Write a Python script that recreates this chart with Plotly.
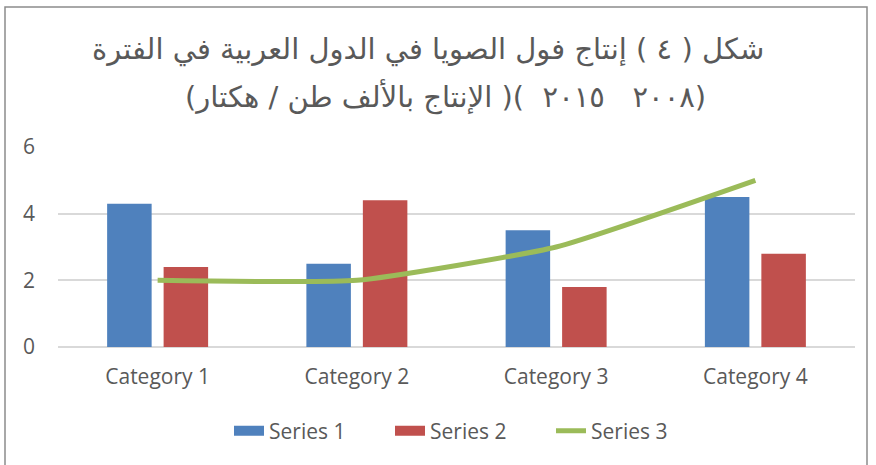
import plotly.graph_objects as go

categories = ["Category 1", "Category 2", "Category 3", "Category 4"]
series1 = [4.3, 2.5, 3.5, 4.5]
series2 = [2.4, 4.4, 1.8, 2.8]
series3 = [2, 2, 3, 5]
RLE, PDF = "\u202B", "\u202C"
title_line1 = RLE + "شكل ( ٤ ) إنتاج فول الصويا في الدول العربية في الفترة" + PDF
title_line2 = RLE + "(٢٠٠٨   ٢٠١٥  )( الإنتاج بالألف طن / هكتار)" + PDF

W, H = 876, 465
L, R, T, B = 58, 21, 147, 118

BLUE, RED, GREEN = "#4F81BD", "#C0504D", "#9BBB59"
TXT = "#595959"
FONT = "Open Sans, Liberation Sans, sans-serif"

fig = go.Figure()
fig.add_trace(go.Bar(x=categories, y=series1, name="Series 1", showlegend=False,
                     marker=dict(color=BLUE, line=dict(width=0))))
fig.add_trace(go.Bar(x=categories, y=series2, name="Series 2", showlegend=False,
                     marker=dict(color=RED, line=dict(width=0))))
fig.add_trace(go.Scatter(x=categories, y=series3, name="Series 3", mode="lines", showlegend=False,
                         line=dict(color=GREEN, width=5, shape="spline", smoothing=0.45)))
# legend entries
fig.add_trace(go.Scatter(x=[None], y=[None], name="Series 1", mode="lines",
                         line=dict(color=BLUE, width=14)))
fig.add_trace(go.Scatter(x=[None], y=[None], name="Series 2", mode="lines",
                         line=dict(color=RED, width=14)))
fig.add_trace(go.Scatter(x=[None], y=[None], name="Series 3", mode="lines",
                         line=dict(color=GREEN, width=5)))

pw = W - L - R
ph = H - T - B
def px(x):
    return (x - L) / pw
def py(y):
    return (H - B - y) / ph

fig.update_layout(
    width=W, height=H,
    margin=dict(l=L, r=R, t=T, b=B, autoexpand=False),
    paper_bgcolor="white", plot_bgcolor="white",
    barmode="group", bargap=0.433, bargroupgap=0.212,
    font=dict(family=FONT, color=TXT, size=21),
    showlegend=True,
    legend=dict(orientation="h", x=px(229), xanchor="left",
                yref="container", y=(H - 431) / H, yanchor="middle",
                entrywidth=116, entrywidthmode="pixels",
                font=dict(size=21, color=TXT), traceorder="normal"),
    xaxis=dict(showgrid=False, showline=False, ticks="", ticklabelstandoff=15,
               tickfont=dict(size=21, color=TXT)),
    yaxis=dict(range=[0, 6], dtick=2, showgrid=True, gridcolor="#D9D9D9", gridwidth=1.5,
               zeroline=True, zerolinecolor="#D9D9D9", zerolinewidth=1.5,
               showline=False, ticks="", tickfont=dict(size=21, color=TXT),
               ticklabelstandoff=22),
    shapes=[dict(type="rect", xref="paper", yref="paper",
                 x0=px(5), x1=px(867), y0=py(475), y1=py(7),
                 line=dict(color="#8C8C8C", width=1.5), layer="below")],
    annotations=[
        dict(text=title_line1, xref="paper", yref="paper", x=px(428), y=py(50),
             xanchor="center", yanchor="middle", showarrow=False,
             font=dict(family="DejaVu Sans, sans-serif", size=29, color=TXT)),
        dict(text=title_line2, xref="paper", yref="paper", x=px(445), y=py(96),
             xanchor="center", yanchor="middle", showarrow=False,
             font=dict(family="DejaVu Sans, sans-serif", size=29, color=TXT)),
    ],
)

fig.write_html("out.html", config={"displayModeBar": False},
               post_script="document.body.style.margin='0px';")
